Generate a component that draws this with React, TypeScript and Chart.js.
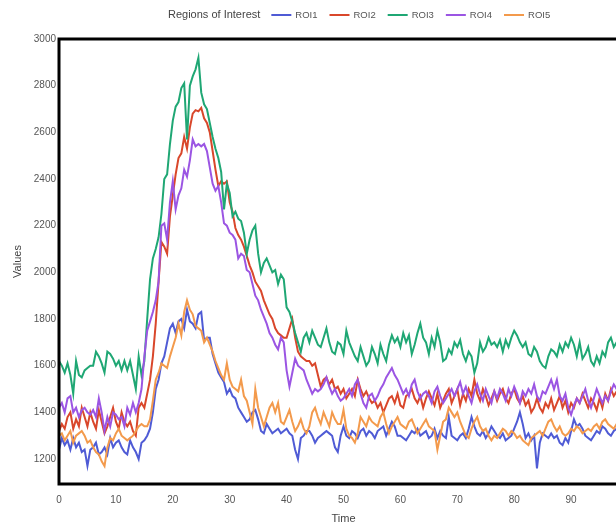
import { useEffect, useRef } from 'react';
import { Chart, registerables } from 'chart.js';

Chart.register(...registerables);

const FONT = '"Liberation Sans", Arial, Helvetica, sans-serif';
const TIME_STEP = 0.5;

const ROI1 = [
  1240,1290,1260,1280,1240,1290,1250,1270,1230,1240,1170,1240,1250,1270,1220,1230,1250,1220,1290,1250,
  1270,1280,1250,1230,1220,1280,1250,1230,1200,1270,1280,1300,1330,1400,1500,1540,1610,1640,1700,1760,
  1780,1740,1790,1800,1760,1840,1790,1780,1760,1820,1830,1710,1720,1720,1650,1610,1570,1550,1530,1480,
  1500,1470,1460,1420,1400,1380,1360,1370,1400,1410,1370,1320,1310,1350,1330,1310,1320,1330,1310,1320,
  1330,1310,1300,1240,1200,1290,1300,1320,1320,1300,1270,1290,1300,1310,1320,1310,1300,1250,1230,1300,
  1340,1300,1290,1320,1310,1290,1320,1330,1300,1320,1310,1290,1320,1330,1340,1300,1330,1360,1340,1300,
  1300,1290,1280,1300,1320,1310,1330,1300,1310,1320,1290,1300,1330,1290,1320,1300,1290,1380,1300,1290,
  1280,1300,1310,1290,1330,1380,1340,1310,1300,1320,1290,1310,1340,1320,1300,1290,1310,1280,1290,1300,
  1330,1360,1400,1350,1290,1310,1280,1300,1160,1270,1310,1300,1290,1310,1290,1300,1270,1260,1290,1270,
  1320,1370,1340,1350,1330,1300,1290,1280,1300,1320,1310,1340,1330,1310,1300,1320,1330,1310,1300,1320,
];

const ROI2 = [
  1320,1350,1330,1380,1400,1330,1370,1340,1420,1380,1340,1400,1360,1330,1410,1360,1310,1340,1380,1420,
  1360,1330,1400,1360,1340,1360,1320,1300,1420,1440,1420,1480,1540,1640,1780,1960,2130,2110,2080,2240,
  2330,2420,2490,2510,2580,2530,2620,2680,2695,2690,2705,2660,2640,2600,2520,2440,2370,2390,2380,2390,
  2300,2260,2190,2160,2140,2110,2070,2030,2000,1960,1940,1920,1880,1850,1820,1800,1760,1740,1730,1720,
  1720,1760,1800,1720,1660,1640,1630,1620,1620,1600,1610,1560,1510,1540,1550,1520,1540,1500,1510,1480,
  1500,1460,1480,1500,1470,1540,1500,1470,1490,1460,1440,1450,1420,1440,1400,1430,1460,1470,1440,1480,
  1430,1420,1470,1480,1500,1460,1440,1470,1420,1460,1490,1460,1430,1480,1420,1450,1480,1500,1440,1470,
  1500,1430,1480,1450,1500,1470,1540,1480,1450,1500,1470,1430,1460,1490,1450,1480,1500,1460,1440,1480,
  1500,1460,1440,1470,1430,1450,1400,1420,1460,1420,1400,1440,1420,1460,1410,1440,1470,1420,1450,1400,
  1440,1420,1460,1440,1480,1450,1420,1460,1440,1410,1460,1420,1480,1450,1500,1470,1490,1460,1480,1470,
];

const ROI3 = [
  1620,1600,1570,1610,1560,1480,1620,1560,1550,1580,1590,1600,1600,1660,1640,1610,1570,1660,1650,1630,
  1600,1620,1580,1620,1580,1620,1560,1500,1640,1560,1620,1800,1970,2060,2100,2150,2250,2400,2420,2550,
  2650,2710,2730,2790,2810,2570,2800,2840,2870,2920,2770,2720,2700,2640,2580,2530,2490,2430,2270,2380,
  2340,2240,2260,2230,2220,2170,2080,2140,2180,2200,2080,2000,2040,2060,2030,2000,2010,1950,1990,1970,
  1850,1830,1790,1740,1700,1660,1720,1740,1700,1750,1720,1690,1680,1720,1760,1700,1660,1650,1700,1690,
  1650,1750,1700,1670,1640,1620,1680,1640,1600,1620,1680,1650,1610,1690,1650,1620,1690,1730,1700,1720,
  1680,1740,1700,1730,1650,1690,1740,1780,1720,1700,1650,1720,1680,1750,1700,1620,1630,1670,1650,1700,
  1680,1710,1650,1620,1660,1640,1570,1610,1700,1660,1680,1720,1690,1700,1680,1710,1660,1710,1680,1720,
  1750,1730,1700,1680,1700,1650,1640,1680,1660,1620,1600,1590,1640,1670,1660,1640,1690,1660,1700,1680,
  1720,1690,1640,1700,1630,1650,1680,1620,1600,1640,1610,1660,1640,1700,1720,1680,1700,1690,1680,1700,
];

const ROI4 = [
  1420,1440,1400,1460,1470,1400,1420,1380,1410,1420,1400,1390,1410,1380,1460,1400,1320,1380,1340,1400,
  1390,1370,1380,1340,1420,1390,1440,1400,1440,1500,1640,1750,1790,1830,1880,1960,2200,2210,2140,2300,
  2390,2270,2330,2360,2440,2410,2480,2570,2540,2550,2540,2550,2520,2450,2380,2350,2370,2300,2210,2200,
  2170,2160,2140,2060,2080,2070,2010,2000,1950,1900,1880,1840,1810,1780,1740,1720,1690,1670,1720,1700,
  1580,1510,1570,1630,1600,1590,1580,1540,1510,1480,1500,1490,1500,1520,1550,1510,1480,1500,1470,1450,
  1460,1480,1500,1470,1520,1540,1480,1440,1420,1470,1480,1450,1470,1500,1520,1550,1570,1590,1560,1540,
  1510,1480,1500,1470,1520,1540,1490,1460,1480,1490,1470,1440,1490,1510,1470,1440,1460,1480,1500,1470,
  1500,1530,1480,1510,1470,1440,1490,1520,1480,1450,1500,1470,1440,1490,1460,1500,1480,1450,1500,1470,
  1510,1480,1440,1490,1470,1500,1480,1520,1470,1450,1490,1480,1510,1540,1500,1540,1470,1450,1480,1420,
  1390,1430,1460,1440,1470,1500,1450,1420,1460,1500,1470,1440,1470,1450,1490,1520,1500,1470,1490,1480,
];

const ROI5 = [
  1300,1310,1280,1300,1320,1270,1300,1310,1320,1300,1270,1280,1250,1230,1220,1190,1170,1250,1290,1280,
  1310,1330,1300,1290,1280,1290,1300,1320,1340,1350,1340,1340,1370,1450,1540,1570,1610,1600,1590,1640,
  1680,1720,1780,1730,1830,1880,1840,1820,1770,1760,1750,1700,1720,1690,1660,1620,1590,1560,1540,1610,
  1540,1510,1500,1490,1540,1470,1450,1400,1350,1500,1420,1380,1340,1380,1420,1440,1400,1440,1360,1350,
  1380,1410,1360,1320,1340,1370,1330,1310,1340,1400,1420,1380,1350,1400,1370,1340,1400,1370,1350,1350,
  1410,1330,1300,1290,1270,1310,1380,1360,1340,1380,1360,1350,1340,1380,1400,1350,1310,1340,1360,1380,
  1350,1340,1330,1360,1370,1340,1310,1330,1350,1370,1340,1330,1320,1240,1300,1360,1370,1420,1400,1380,
  1400,1360,1330,1300,1290,1330,1360,1380,1340,1320,1330,1300,1280,1300,1290,1310,1330,1320,1300,1320,
  1310,1290,1300,1280,1270,1260,1290,1300,1310,1320,1300,1330,1360,1370,1340,1320,1340,1310,1300,1310,
  1330,1320,1340,1330,1310,1320,1330,1320,1340,1350,1330,1360,1370,1350,1340,1330,1350,1340,1330,1350,
];

const SERIES = [ROI1, ROI2, ROI3, ROI4, ROI5];
const SERIES_NAMES = ['ROI1', 'ROI2', 'ROI3', 'ROI4', 'ROI5'];
const SERIES_COLORS = ['#4f5bd5', '#d9472b', '#1fa774', '#9b55e3', '#f39a4c'];
const TIME = ROI1.map((_, i) => i * TIME_STEP);
const X_TICKS = [0, 10, 20, 30, 40, 50, 60, 70, 80, 90, 100];
const Y_TICKS = [1200, 1400, 1600, 1800, 2000, 2200, 2400, 2600, 2800, 3000];
const LEGEND_TITLE = 'Regions of Interest';
const X_TITLE = 'Time';
const Y_TITLE = 'Values';

const legendPlugin = {
  id: 'roiLegend',
  afterDraw(chart: any) {
    const ctx = chart.ctx;
    ctx.save();
    ctx.textBaseline = 'middle';
    ctx.textAlign = 'left';
    const y = 15;
    let x = 168;
    ctx.font = `11px ${FONT}`;
    ctx.fillStyle = '#444';
    ctx.fillText(LEGEND_TITLE, x, y);
    x += ctx.measureText(LEGEND_TITLE).width + 11;
    ctx.font = `9.5px ${FONT}`;
    chart.data.datasets.forEach((ds: any) => {
      ctx.strokeStyle = ds.borderColor;
      ctx.lineWidth = 2;
      ctx.beginPath();
      ctx.moveTo(x, y);
      ctx.lineTo(x + 20, y);
      ctx.stroke();
      x += 24;
      ctx.fillStyle = '#555';
      ctx.fillText(ds.label, x, y);
      x += ctx.measureText(ds.label).width + 12;
    });
    ctx.restore();
  },
};

const framePlugin = {
  id: 'frame',
  afterDatasetsDraw(chart: any) {
    const { ctx, chartArea } = chart;
    ctx.save();
    ctx.strokeStyle = '#000';
    ctx.lineWidth = 3;
    ctx.strokeRect(chartArea.left, chartArea.top, chartArea.right - chartArea.left, chartArea.bottom - chartArea.top);
    ctx.restore();
  },
};

export default function App() {
  const ref = useRef<HTMLCanvasElement | null>(null);

  useEffect(() => {
    if (!ref.current) return;
    const chart = new Chart(ref.current, {
      type: 'line',
      data: {
        datasets: SERIES.map((vals, i) => ({
          label: SERIES_NAMES[i],
          data: vals.map((v, j) => ({ x: TIME[j], y: v })),
          borderColor: SERIES_COLORS[i],
          backgroundColor: SERIES_COLORS[i],
          borderWidth: 2,
          pointRadius: 0,
          tension: 0,
          fill: false,
          order: SERIES.length - i,
        })),
      },
      options: {
        responsive: false,
        animation: false,
        devicePixelRatio: 1,
        layout: { padding: { top: 39, right: 32, bottom: 0, left: 0 } },
        plugins: { legend: { display: false }, tooltip: { enabled: false } },
        scales: {
          x: {
            type: 'linear',
            min: 0,
            max: 100,
            afterBuildTicks: (s: any) => { s.ticks = X_TICKS.map((v) => ({ value: v })); },
            afterFit: (s: any) => { s.height = 42; },
            grid: { display: false, drawTicks: false },
            border: { display: false },
            ticks: {
              font: { size: 10, family: FONT }, color: '#555', padding: 10, maxRotation: 0, autoSkip: false,
              callback: (v: any) => String(v),
            },
            title: { display: true, text: X_TITLE, font: { size: 11, family: FONT }, color: '#444', padding: { top: 0, bottom: 0 } },
          },
          y: {
            min: 1093,
            max: 3000,
            afterBuildTicks: (s: any) => { s.ticks = Y_TICKS.map((v) => ({ value: v })); },
            afterFit: (s: any) => { s.width = 59; },
            grid: { display: false, drawTicks: false },
            border: { display: false },
            ticks: { font: { size: 10, family: FONT }, color: '#555', padding: 3, callback: (v: any) => String(v) },
            title: { display: true, text: Y_TITLE, font: { size: 11, family: FONT }, color: '#444', padding: { top: 11, bottom: 0 } },
          },
        },
      },
      plugins: [legendPlugin, framePlugin],
    });
    return () => chart.destroy();
  }, []);

  return (
    <div style={{ position: 'fixed', left: 0, top: 0, width: 616, height: 526, overflow: 'hidden', background: '#fff' }}>
      <canvas ref={ref} width={660} height={526} style={{ display: 'block', width: 660, height: 526 }} />
    </div>
  );
}
